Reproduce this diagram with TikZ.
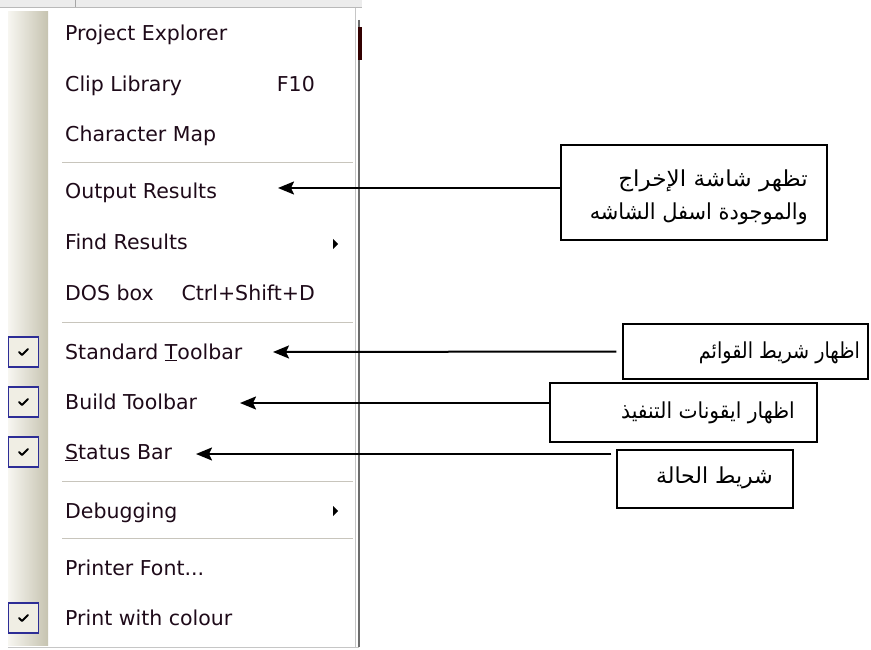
\documentclass[tikz,border=0pt]{standalone}
\usepackage{fontspec}
\setmainfont{DejaVu Sans}
\newfontfamily\menufont{DejaVu Sans}
\newfontfamily\arabicfont[Script=Arabic]{DejaVu Sans}
\TeXXeTstate=1
\usetikzlibrary{arrows.meta}
\definecolor{menutxt}{RGB}{30,10,25}
\definecolor{sideL}{RGB}{247,246,241}
\definecolor{sideR}{RGB}{198,195,176}
\definecolor{sepgray}{RGB}{200,197,188}
\definecolor{chkblue}{RGB}{45,45,150}
\definecolor{chkfill}{RGB}{240,238,228}
\definecolor{topstrip}{RGB}{236,236,236}
\begin{document}
\begin{tikzpicture}[x=1pt,y=-1pt,
  item/.style={inner sep=0pt, anchor=base west, text=menutxt, font=\menufont\fontsize{20.5}{24}\selectfont},
  itemR/.style={item, anchor=base east},
  chk/.style={draw=chkblue, line width=1.3pt, fill=chkfill, minimum size=30pt, inner sep=0pt},
  tick/.style={line width=1.8pt, black, line cap=round, line join=round},
  sep/.style={sepgray, line width=1pt},
  callbox/.style={draw=black, line width=1.3pt, inner sep=0pt},
  arlabel/.style={inner sep=0pt, anchor=base east, font=\arabicfont\fontsize{22}{26}\selectfont},
  arr/.style={line width=2pt, -{Stealth[length=16pt,width=13pt,inset=3pt]}}
]
\useasboundingbox (0,0) rectangle (871,650);
\fill[white] (0,0) rectangle (871,650);
% top strip of window behind
\fill[topstrip] (0,0) rectangle (362,7);
\draw[gray!55, line width=1pt] (0,7.5) -- (362,7.5);
\draw[gray!70, line width=1pt] (75,0) -- (75,7);
% menu body
\fill[white] (8,8) rectangle (355,647);
\shade[left color=sideL, right color=sideR] (8,12) rectangle (48,645);
\draw[gray!45, line width=1pt] (355.5,8) -- (355.5,647);
\draw[gray!85!black, line width=1.5pt] (359,20) -- (359,647);
\fill[black!80!red] (358,27) rectangle (362,60);
\draw[gray!45, line width=1pt] (8,647.5) -- (359,647.5);
% separators
\draw[sep] (62,163) -- (353,163);
\draw[sep] (62,322) -- (353,322);
\draw[sep] (62,481) -- (353,481);
\draw[sep] (62,538) -- (353,538);
% menu items
\node[item] (pe) at (65,41) {Project Explorer};
\node[item] (cl) at (65,92) {Clip Library};
\node[itemR] (f10) at (315,92) {F10};
\node[item] (cm) at (65,142) {Character Map};
\node[item] (orr) at (65,199) {Output Results};
\node[item] (fr) at (65,250) {Find Results};
\node[item] (dos) at (65,300) {DOS box};
\node[itemR] (csd) at (315,300) {Ctrl+Shift+D};
\node[item] (st) at (65,359) {Standard \underline{T}oolbar};
\node[item] (bt) at (65,409) {Build Toolbar};
\node[item] (sb) at (65,459) {\underline{S}tatus Bar};
\node[item] (dbg) at (65,518) {Debugging};
\node[item] (pf) at (65,575) {Printer Font...};
\node[item] (pwc) at (65,625) {Print with colour};
% submenu triangles
\fill[black] (333,239) -- (338,244) -- (333,249) -- cycle;
\fill[black] (333,506) -- (338,511) -- (333,516) -- cycle;
% checkboxes
\foreach \n/\yy in {c1/352, c2/402, c3/452, c4/618}{
  \node[chk] (\n) at (23.5,\yy) {};
  \draw[tick] ([shift={(-4.5,0)}]\n.center) -- ([shift={(-1.5,3)}]\n.center) -- ([shift={(4.5,-3)}]\n.center);
}
% callout boxes
\node[callbox, minimum width=266pt, minimum height=95pt] (b1) at (694,192.5) {};
\node[arlabel] (t1a) at (808,186) {\scalebox{1.05}[1]{\beginR تظهر شاشة الإخراج\endR}};
\node[arlabel] (t1b) at (808,219) {\scalebox{0.95}[1]{\beginR والموجودة اسفل الشاشه\endR}};
\node[callbox, minimum width=245pt, minimum height=55pt] (b2) at (745.5,351.5) {};
\node[arlabel] (t2) at (860,358) {\scalebox{0.87}[1]{\beginR اظهار شريط القوائم\endR}};
\node[callbox, minimum width=267pt, minimum height=59pt] (b3) at (683.5,412.5) {};
\node[arlabel] (t3) at (795,418) {\scalebox{0.92}[1]{\beginR اظهار ايقونات التنفيذ\endR}};
\node[callbox, minimum width=176pt, minimum height=58pt] (b4) at (705,479) {};
\node[arlabel] (t4) at (773,483) {\beginR شريط الحالة\endR};
% arrow targets
\coordinate (p1) at (278,188);
\coordinate (p2) at (273,352);
\coordinate (p3) at (240,403);
\coordinate (p4) at (196,454);
\draw[arr] ([yshift=4.5pt]b1.west) -- (p1);
\draw[arr, shorten <=6pt] (b2.west) -- (p2);
\draw[arr] ([yshift=9.5pt]b3.west) -- (p3);
\draw[arr, shorten <=5pt] ([yshift=25pt]b4.west) -- (p4);
\end{tikzpicture}
\end{document}
